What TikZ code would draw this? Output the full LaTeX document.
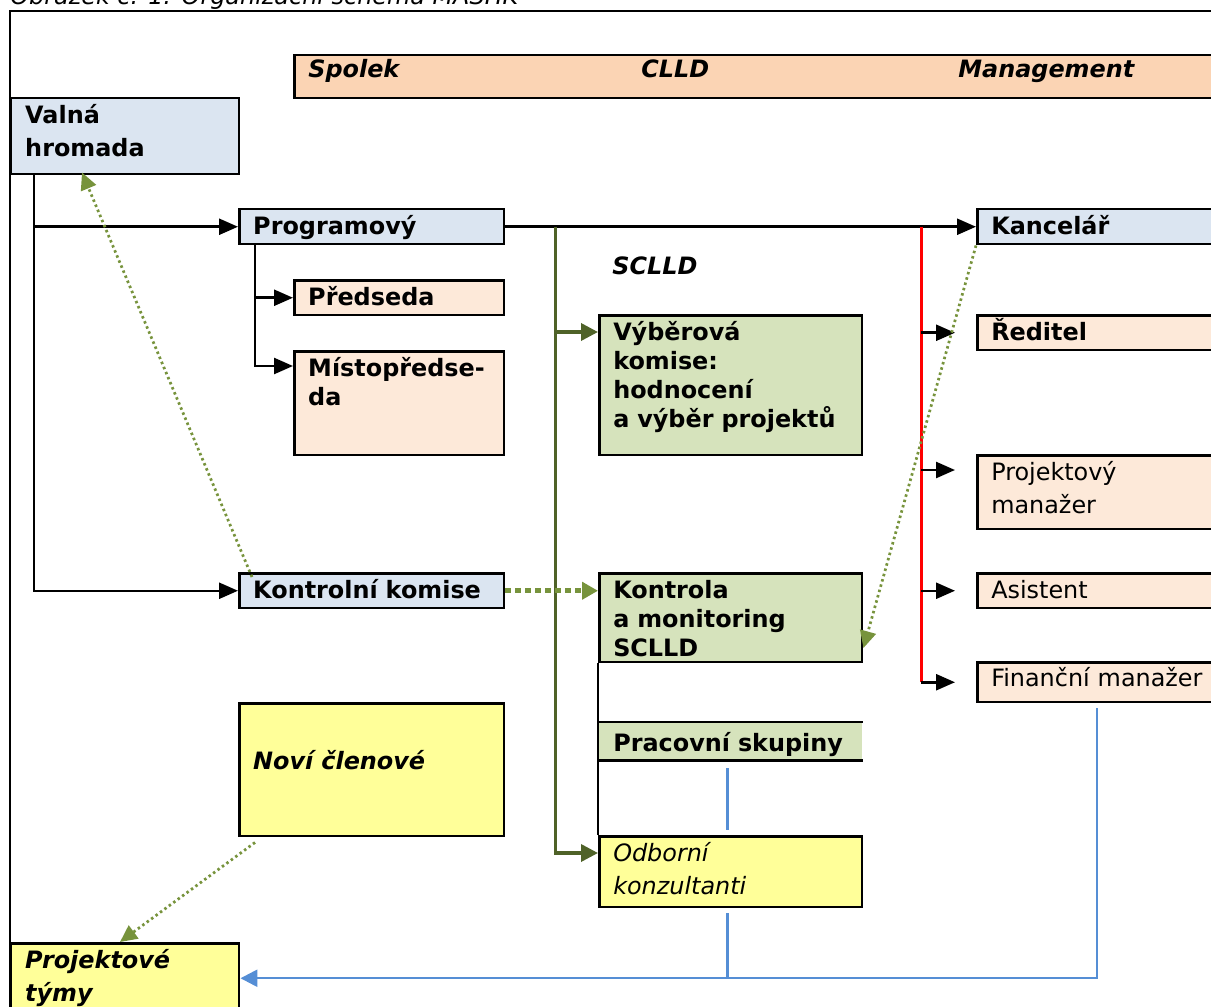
\documentclass[tikz,border=0pt]{standalone}
\usepackage{fontspec}
\setmainfont{DejaVu Sans}
\usetikzlibrary{arrows.meta,positioning}
\definecolor{hlblue}{HTML}{DBE5F1}
\definecolor{hlband}{HTML}{FBD4B4}
\definecolor{hlpeach}{HTML}{FDE9D9}
\definecolor{hlgreen}{HTML}{D6E3BC}
\definecolor{hlyellow}{HTML}{FFFF99}
\definecolor{sclldgreen}{HTML}{4F6228}
\definecolor{dotgreen}{HTML}{77933C}
\definecolor{lineblue}{HTML}{558ED5}
\newcommand{\fstight}{\fontsize{13.6pt}{16.5pt}\selectfont}
\newcommand{\fswide}{\fontsize{13.6pt}{18.8pt}\selectfont}

\begin{document}
\begin{tikzpicture}[x=0.02cm, y=-0.02cm,
  orgbox/.style={draw, line width=0.05cm, anchor=north west, align=left, inner xsep=0.28cm, inner ysep=0pt, text height=0.5cm, font=\fstight},
  sz/.style 2 args={text width=#1, text depth=#2},
  bluebox/.style={orgbox, fill=hlblue, font=\fstight\bfseries},
  peachbox/.style={orgbox, fill=hlpeach},
  greenbox/.style={orgbox, fill=hlgreen, font=\fstight\bfseries},
  yellowbox/.style={orgbox, fill=hlyellow},
  bandtext/.style={anchor=base west, inner sep=0pt, font=\fstight\bfseries\itshape},
  edge/.style={line width=0.05cm},
  arr/.style={-{Triangle[length=0.38cm,width=0.32cm]}},
  olivel/.style={draw=sclldgreen, line width=0.07cm, -{Triangle[length=0.34cm,width=0.34cm]}},
  redl/.style={draw=red, line width=0.07cm},
  bluel/.style={draw=lineblue, line width=0.05cm},
  dotl/.style={draw=dotgreen, line width=0.055cm, dash pattern=on 0.05cm off 0.06cm, -{Triangle[length=0.34cm,width=0.32cm]}},
  dotthick/.style={draw=dotgreen, line width=0.1cm, dash pattern=on 0.12cm off 0.08cm, -{Triangle[length=0.32cm,width=0.34cm]}}]

  \useasboundingbox (0,0) rectangle (1211,1007);
  \clip (0,0) rectangle (1211,1007);

  \node[anchor=base west, inner sep=0pt, font=\fstight\itshape] (cap) at (10,5) {Obrázek č. 1: Organizační schéma MASHK};
  \draw[edge] (10,1030) -- (10,11) -- (1240,11);

  \node[orgbox, fill=hlband, sz={18.38cm}{0.36cm}] (hd) at (293,54) {};
  \node[bandtext] (spolek) at (308,78) {Spolek};
  \node[bandtext] (clld) at (641,78) {CLLD};
  \node[bandtext] (mgmt) at (958,78) {Management};

  \node[bluebox, font=\fswide\bfseries, sz={4cm}{1.02cm}] (vh) at (10,97) {Valná\\hromada};
  \node[bluebox, sz={4.74cm}{0.2cm}] (pg) at (238,208) {Programový};
  \node[peachbox, font=\fstight\bfseries, sz={3.64cm}{0.2cm}] (pr) at (293,279) {Předseda};
  \node[peachbox, font=\fstight\bfseries, sz={3.64cm}{1.58cm}] (mp) at (293,350) {Místopředse-\\da};
  \node[bluebox, sz={4.74cm}{0.2cm}] (kk) at (238,572) {Kontrolní komise};
  \node[yellowbox, font=\fstight\bfseries\itshape, text height=1.32cm, sz={4.74cm}{1.34cm}] (nc) at (238,702) {Noví členové};
  \node[yellowbox, font=\fswide\bfseries\itshape, sz={4cm}{0.9cm}] (pt) at (10,942) {Projektové\\týmy};

  \node[bandtext] (sclld) at (612,274) {SCLLD};
  \node[greenbox, sz={4.7cm}{2.3cm}] (vk) at (598,314) {Výběrová\\komise:\\hodnocení\\a výběr projektů};
  \node[greenbox, sz={4.7cm}{1.28cm}] (km) at (598,572) {Kontrola\\a monitoring\\SCLLD};
  \node[greenbox, draw=none, text height=0.56cm, sz={4.7cm}{0.16cm}] (ps) at (598,722) {\mbox{Pracovní skupiny}};
  \node[yellowbox, font=\fswide\itshape, sz={4.7cm}{0.92cm}] (od) at (598,835) {Odborní\\konzultanti};

  \node[bluebox, sz={4.72cm}{0.2cm}] (kc) at (976,208) {Kancelář};
  \node[peachbox, font=\fstight\bfseries, sz={4.72cm}{0.2cm}] (rd) at (976,314) {Ředitel};
  \node[peachbox, font=\fswide, sz={4.72cm}{0.98cm}] (pm) at (976,454) {Projektový\\manažer};
  \node[peachbox, sz={4.72cm}{0.2cm}] (as) at (976,572) {Asistent};
  \node[peachbox, text height=0.48cm, sz={4.72cm}{0.32cm}] (fm) at (976,661) {Finanční manažer};

  \draw[edge] (ps.north west) -- (ps.north east) (ps.south west) -- (ps.south east);
  \draw[edge] (km.south west) -- (od.north west);

  \coordinate (vhtr) at ([shift={(24,0)}]vh.south west);
  \draw[edge, arr] (vhtr) |- (kk.west);
  \draw[edge, arr] (pg.west -| vhtr) -- (pg.west);
  \coordinate (pgtr) at ([shift={(17,0)}]pg.south west);
  \coordinate (mpin) at ([shift={(0,16)}]mp.north west);
  \draw[edge, arr] (pgtr) |- (mpin);
  \draw[edge, arr] (pr.west -| pgtr) -- (pr.west);
  \draw[edge, arr] (pg.east) -- (kc.west);

  \coordinate (gtr) at ([shift={(50,0)}]pg.east);
  \coordinate (vkin) at ([shift={(0,18)}]vk.north west);
  \coordinate (odin) at ([shift={(0,18)}]od.north west);
  \draw[olivel] (gtr) |- (odin);
  \draw[olivel] (vkin -| gtr) -- (vkin);

  \coordinate (rtr) at ([shift={(416,0)}]pg.east);
  \coordinate (pmin) at ([shift={(0,16)}]pm.north west);
  \draw[redl] (rtr) -- (fm.west -| rtr);
  \foreach \n in {rd,as,fm}
    \draw[edge, arr, shorten >=0.42cm] (\n.west -| rtr) -- (\n.west);
  \draw[edge, arr, shorten >=0.42cm] (pmin -| rtr) -- (pmin);

  \coordinate (odb) at ([shift={(-3,5)}]od.south);
  \draw[bluel] ([shift={(-3,8)}]ps.south) -- ([shift={(-3,-5)}]od.north);
  \draw[bluel] (odb) -- (odb |- pt.east);
  \draw[bluel, -{Triangle[length=0.34cm,width=0.34cm]}] ([shift={(-12,5)}]fm.south) |- (pt.east);

  \draw[dotl] ([shift={(14,5)}]kk.north west) -- ([shift={(72,-3)}]vh.south west);
  \draw[dotthick] (kk.east) -- (km.west |- kk.east);
  \draw[dotl] (kc.south west) -- ([shift={(0,76)}]km.north east);
  \draw[dotl] ([shift={(17,5)}]nc.south west) -- ([shift={(110,0)}]pt.north west);
\end{tikzpicture}
\end{document}
